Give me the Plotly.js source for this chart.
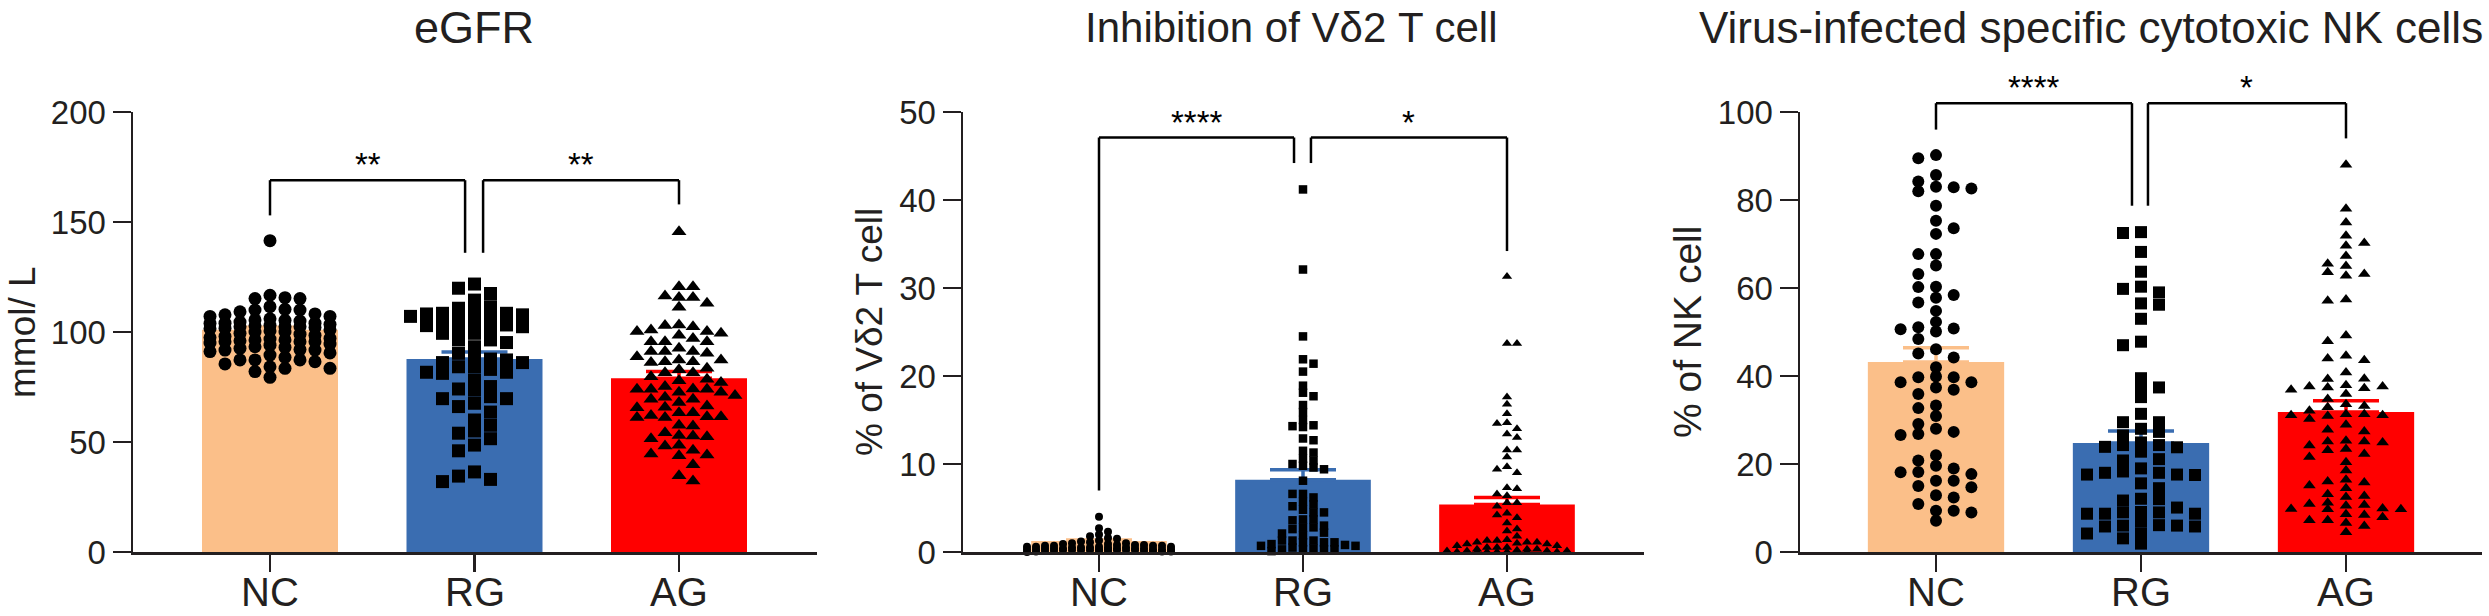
<!DOCTYPE html>
<html>
<head>
<meta charset="utf-8">
<script src="https://cdn.plot.ly/plotly-3.0.1.min.js"></script>
<style>html,body{margin:0;padding:0;background:#fff;}#chart{width:2489px;height:616px;}</style>
</head>
<body>
<div id="chart"></div>
<script>
// ---------------- DATA ----------------
const categories = ['NC', 'RG', 'AG'];

// eGFR (mmol/ L)
const egfrNC = [141.5, 116.7, 115.6, 115.2, 115.2, 111.5, 110.3, 110, 110, 109.2, 108.2, 107.8, 107.1, 107.1, 106, 105.5, 105.3, 105, 104.5, 104, 104, 103.9, 103.5, 103, 102.8, 102.4, 102.4, 102.4, 102, 101.7, 101.5, 101, 100.5, 100, 100, 99.4, 99, 98.5, 98, 97.5, 97.1, 96.8, 96.4, 96.4, 96, 95.6, 95.6, 95.6, 95, 94.5, 94, 93.3, 93, 92.6, 92, 91.8, 91.8, 91.1, 90.5, 89.5, 88.5, 87.3, 87.3, 87.3, 86.5, 85.5, 84.2, 83.5, 83.5, 82, 79.4];
const egfrRG = [121.8, 119.9, 117.5, 114.5, 111.5, 110.8, 109.2, 108.5, 108.5, 108.2, 107.8, 107.1, 106.3, 105.5, 104, 104, 103.2, 102.9, 102.4, 101, 101, 99.4, 99.4, 96.4, 96.4, 95.2, 93.3, 90.3, 88.8, 87.7, 87.3, 86.1, 86.1, 84.2, 84.2, 83, 81.7, 81.7, 81.2, 78.2, 75.2, 74.1, 73.6, 70.6, 69.7, 69.7, 67.6, 66.1, 63.6, 60, 57.6, 55, 54, 51.5, 48.6, 46, 36.4, 34.5, 33, 32];
const egfrAG = [145.6, 120.6, 120.6, 116.4, 115.7, 115.7, 113.1, 111.2, 103.2, 103, 102.4, 100.9, 100.2, 100.2, 99.4, 98.5, 97.1, 95.6, 95.6, 95.6, 92.6, 91.1, 91.1, 91.1, 90.3, 88.8, 87.3, 87.3, 86.5, 86.5, 86.1, 83.5, 82.8, 81.5, 81.5, 79.7, 78.5, 77.8, 77.1, 75.2, 74.1, 74, 74, 74, 72.6, 72.6, 71.1, 70.3, 69.4, 69.4, 68, 66.4, 65.8, 65.6, 63.3, 63.3, 62, 61.5, 61.5, 61.1, 61.1, 57.6, 57.3, 54.2, 53, 52.7, 52.4, 51.5, 48.5, 48.2, 46.2, 44.5, 44.1, 43.7, 39.7, 34.7, 32.3];
const egfrMean = [101, 87.7, 79];
const egfrSEM = [1.2, 3.2, 3.0];
const egfrTicks = [0, 50, 100, 150, 200];

// Inhibition of Vδ2 T cell (% of Vδ2 T cell)
const vd2NC = [4.0, 2.7, 2.3, 2.0, 1.8, 1.6, 1.5, 1.3, 1.2, 1.1, 1.0, 1.0, 0.9, 0.9, 0.8, 0.8, 0.8, 0.7, 0.7, 0.7, 0.7, 0.6, 0.6, 0.6, 0.6, 0.5, 0.5, 0.5, 0.5, 0.5, 0.4, 0.4, 0.4, 0.4, 0.4, 0.4, 0.3, 0.3, 0.3, 0.3, 0.3, 0.3, 0.3, 0.2, 0.2, 0.2, 0.2, 0.2, 0.2, 0.2, 0.1, 0.1, 0.1, 0.1, 0.1, 0.1, 0.05, 0.05, 0.05, 0.0];
const vd2RG = [41.2, 32.1, 24.5, 21.9, 21.4, 20.5, 18.9, 18.1, 17.7, 16.7, 15.9, 15, 14.4, 14.3, 14.2, 12.9, 12.7, 11.5, 11.3, 10.6, 10.4, 10, 9.8, 9.6, 9.4, 8.1, 6.6, 6.6, 6.2, 5.7, 5.4, 5.2, 4.8, 4.5, 4.5, 3.7, 3.7, 3.6, 3.0, 2.8, 2.8, 2.6, 2.2, 2.1, 1.9, 1.3, 1.3, 1.3, 1.1, 1.1, 1.1, 0.9, 0.8, 0.7, 0.7, 0.5, 0.4, 0.3, 0.3, 0.3, 0.3, 0.1];
const vd2AG = [31.3, 23.7, 23.7, 17.6, 16.8, 15.7, 14.7, 14.6, 14.0, 13.4, 13.0, 11.6, 11.6, 10.8, 9.7, 9.4, 9.0, 7.3, 7.2, 6.6, 6.4, 5.6, 5.6, 5.2, 4.4, 4.2, 3.9, 3.3, 2.6, 2.4, 1.8, 1.4, 1.3, 1.3, 1.1, 1.1, 1.1, 1.0, 0.9, 0.9, 0.7, 0.7, 0.5, 0.5, 0.5, 0.3, 0.3, 0.3, 0.2, 0.1, 0.1, 0.1, 0.1, 0.0, 0.0, 0.0, 0.0, 0.0, 0.0, 0.0];
const vd2Mean = [1.25, 8.2, 5.4];
const vd2SEM = [0.12, 1.15, 0.8];
const vd2Ticks = [0, 10, 20, 30, 40, 50];

// Virus-infected specific cytotoxic NK cells (% of NK cell)
const nkNC = [90.2, 89.5, 85.7, 84.2, 83, 82.9, 82.6, 82, 78.7, 75.3, 73.6, 72.3, 67.7, 67.7, 65.1, 63.2, 60.3, 60.2, 58.4, 57.8, 56.7, 54.8, 52.3, 51.1, 50.8, 50.6, 50.1, 48.4, 46.1, 45.1, 44.2, 42, 39.9, 39.7, 39.7, 38.6, 38.6, 37.4, 36.9, 35.9, 33.3, 32.7, 30.9, 29.1, 28, 27.3, 26.8, 26.6, 22, 20.8, 19.6, 19, 18.2, 18.1, 17.7, 16.2, 16.2, 15, 14.7, 12.9, 12.4, 10.9, 9.4, 9.4, 9, 7.1];
const nkRG = [72.7, 72.5, 68.2, 63.7, 60.3, 59.8, 59, 56.5, 56.2, 53, 47.8, 47, 39.5, 37.4, 37.4, 35.2, 31.4, 29.5, 29.5, 28, 27.3, 26.5, 24.9, 24.3, 24.3, 23.9, 23.8, 22.8, 21.1, 20.8, 19, 18.3, 18, 18, 17.6, 17.6, 17.5, 15.6, 14.5, 12.1, 12, 11.7, 10.1, 9.1, 9, 9, 8.7, 8.7, 8.7, 6.9, 6.1, 6, 6, 5.8, 5.8, 4.2, 4.2, 3.1, 1.9];
const nkAG = [88, 78, 74.9, 71.9, 70.2, 69.6, 67.3, 65.5, 65, 63.6, 63.2, 62.8, 57.4, 57.1, 49.2, 47.9, 44.6, 44, 43.6, 40.8, 39.4, 39.3, 37.9, 37.6, 37.6, 37.4, 37.2, 36.9, 35.9, 34.8, 33.6, 33.2, 32.9, 32.1, 31.3, 31.3, 31.1, 31.1, 30.9, 30.2, 28.9, 27.8, 27.4, 25.3, 25.1, 25.1, 24.9, 24.2, 23.4, 23.1, 22.3, 21.6, 20.4, 18.5, 16.4, 16, 15.8, 15.1, 14.5, 13.1, 12.7, 12.5, 11.2, 10.9, 10.7, 10.5, 9.9, 9.8, 9.7, 9.7, 8.6, 8.4, 7.9, 7.2, 7.2, 6.6, 5.9, 4.5];
const nkMean = [43.2, 24.8, 31.8];
const nkSEM = [3.2, 2.7, 2.6];
const nkTicks = [0, 20, 40, 60, 80, 100];

// significance labels
const egfrSig = ['**', '**'];
const vd2Sig = ['****', '*'];
const nkSig = ['****', '*'];

// ---------------- LAYOUT / STYLE ----------------
const W = 2489, H = 616;
const TXT = '#231f20';
const FONT = 'Liberation Sans, Arial, Helvetica, sans-serif';
const barColors = ['#fbbf89', '#3a6db1', '#ff0000'];
const symbols = ['circle', 'square', 'triangle-up'];
const yTopPx = 112, yBotPx = 552;

const panels = [
  { title: 'eGFR', titleSize: 45, ytitle: 'mmol/ L', ytitleSize: 37, groups: [egfrNC, egfrRG, egfrAG], mean: egfrMean, sem: egfrSEM,
    ticks: egfrTicks, sig: egfrSig, px: [133, 817], cats: [270, 679], titleX: 474, titleAnchor: 'center', ytitleX: 22,
    msize: [13, 13, 13], step: [15, 16, 14], maxCol: [4, 4, 5],
    br: [{x0: 0, x1: 0.954, top: 169, e0: 153, e1: 136}, {x0: 1.042, x1: 2, top: 169, e0: 136, e1: 158}] },
  { title: 'Inhibition of Vδ2 T cell', titleSize: 42, ytitle: '% of Vδ2 T cell', ytitleSize: 37, groups: [vd2NC, vd2RG, vd2AG], mean: vd2Mean, sem: vd2SEM,
    ticks: vd2Ticks, sig: vd2Sig, px: [963, 1644], cats: [1099, 1507], titleX: 1291, titleAnchor: 'center', ytitleX: 869,
    msize: [8, 8.5, 9], step: [9, 10.5, 10], maxCol: [8, 6, 6],
    br: [{x0: 0, x1: 0.956, top: 47.1, e0: 7.0, e1: 44.2}, {x0: 1.039, x1: 2, top: 47.1, e0: 44.2, e1: 34.2}] },
  { title: 'Virus-infected specific cytotoxic NK cells', titleSize: 44, ytitle: '% of NK cell', ytitleSize: 39, groups: [nkNC, nkRG, nkAG], mean: nkMean, sem: nkSEM,
    ticks: nkTicks, sig: nkSig, px: [1800, 2482], cats: [1936, 2346], titleX: 2485, titleAnchor: 'right', ytitleX: 1687,
    msize: [12, 12, 11], step: [17.7, 18, 18.3], maxCol: [2, 3, 3],
    br: [{x0: 0, x1: 0.956, top: 102, e0: 96, e1: 78.7}, {x0: 1.034, x1: 2, top: 102, e0: 78.7, e1: 94}] }
];

// deterministic beeswarm: returns pixel offsets from the column centre
function swarm(vals, pxY, step, size, maxCol, thr) {
  const n = vals.length;
  const idx = [...Array(n).keys()].sort((a, b) => vals[b] - vals[a]);
  const cols = {};
  const off = new Array(n);
  let flip = false;
  for (const i of idx) {
    const y = vals[i] * pxY;
    const cand = [0];
    for (let k = 1; k <= maxCol; k++) cand.push(flip ? -k : k, flip ? k : -k);
    flip = !flip;
    let chosen = null, bestGap = -1, bestC = 0;
    for (const c of cand) {
      const list = cols[c] || [];
      let gap = Infinity;
      for (const py of list) gap = Math.min(gap, Math.abs(py - y));
      if (gap >= thr * size) { chosen = c; break; }
      if (gap > bestGap) { bestGap = gap; bestC = c; }
    }
    if (chosen === null) chosen = bestC;
    (cols[chosen] = cols[chosen] || []).push(y);
    off[i] = chosen * step;
  }
  return off;
}

const traces = [];
const shapes = [];
const annotations = [];
const layout = {
  width: W, height: H, margin: {l: 0, r: 0, t: 0, b: 0},
  paper_bgcolor: '#ffffff', plot_bgcolor: 'rgba(0,0,0,0)',
  showlegend: false, barmode: 'overlay',
  font: {family: FONT, color: TXT}
};

const scatterTraces = [];
panels.forEach((p, pi) => {
  const sfx = pi === 0 ? '' : String(pi + 1);
  const xa = 'x' + sfx, ya = 'y' + sfx;
  const sp = (p.cats[1] - p.cats[0]) / 2;         // px per category unit
  const r0 = (p.px[0] - p.cats[0]) / sp;
  const r1 = 2 + (p.px[1] - p.cats[1]) / sp;
  const ymax = p.ticks[p.ticks.length - 1];
  const pxY = (yBotPx - yTopPx) / ymax;
  const fx = v => (v - r0) / (r1 - r0);
  const fy = v => v / ymax;
  const xr = xa + ' domain', yr = ya + ' domain';

  layout['xaxis' + sfx] = {
    domain: [p.px[0] / W, p.px[1] / W], range: [r0, r1], anchor: ya,
    tickmode: 'array', tickvals: [0, 1, 2], ticktext: categories, showticklabels: false,
    showline: true, linewidth: 2.5, linecolor: TXT, ticks: 'outside', ticklen: 17, tickwidth: 2.5, tickcolor: TXT,
    showgrid: false, zeroline: false, fixedrange: true
  };
  layout['yaxis' + sfx] = {
    domain: [1 - yBotPx / H, 1 - yTopPx / H], range: [0, ymax], anchor: xa,
    tickmode: 'array', tickvals: p.ticks, ticktext: p.ticks.map(String),
    showline: true, linewidth: 2.5, linecolor: TXT, ticks: 'outside', ticklen: 18, tickwidth: 2.5, tickcolor: TXT,
    tickfont: {size: 33, family: FONT, color: TXT}, showgrid: false, zeroline: false, fixedrange: true
  };

  // category labels under the ticks
  categories.forEach((c, g) => {
    annotations.push({xref: xr, yref: 'paper', x: fx(g), y: 1 - 592 / H, xanchor: 'center', yanchor: 'middle',
      text: c, showarrow: false, font: {size: 40, family: FONT, color: TXT}});
  });

  // bars with one-sided SEM
  for (let g = 0; g < 3; g++) {
    traces.push({
      type: 'bar', x: [g], y: [p.mean[g]], width: 0.665, xaxis: xa, yaxis: ya,
      marker: {color: barColors[g], line: {width: 0}},
      error_y: {type: 'data', symmetric: false, array: [p.sem[g]], arrayminus: [0], color: barColors[g], thickness: 3.5, width: 33},
      hoverinfo: 'skip'
    });
  }
  // individual points
  for (let g = 0; g < 3; g++) {
    const vals = p.groups[g];
    const off = swarm(vals, pxY, p.step[g], p.msize[g], p.maxCol[g], 0.75);
    scatterTraces.push({
      type: 'scatter', mode: 'markers', xaxis: xa, yaxis: ya, cliponaxis: false,
      x: vals.map((v, i) => g + off[i] / sp), y: vals,
      marker: {symbol: symbols[g], size: p.msize[g], color: '#000000', line: {width: 0}},
      hoverinfo: 'skip'
    });
  }
  // significance brackets
  p.br.forEach((b, bi) => {
    const ln = {color: '#000000', width: 2.5};
    shapes.push({type: 'line', xref: xr, yref: yr, x0: fx(b.x0), x1: fx(b.x0), y0: fy(b.e0), y1: fy(b.top), line: ln});
    shapes.push({type: 'line', xref: xr, yref: yr, x0: fx(b.x0), x1: fx(b.x1), y0: fy(b.top), y1: fy(b.top), line: ln});
    shapes.push({type: 'line', xref: xr, yref: yr, x0: fx(b.x1), x1: fx(b.x1), y0: fy(b.e1), y1: fy(b.top), line: ln});
    annotations.push({xref: xr, yref: yr, x: fx((b.x0 + b.x1) / 2), y: fy(b.top), xanchor: 'center', yanchor: 'bottom',
      yshift: -5, text: p.sig[bi], showarrow: false, font: {size: 33, family: FONT, color: '#000000'}});
  });
  // panel titles
  annotations.push({xref: 'paper', yref: 'paper', x: p.titleX / W, y: 1 - 28 / H, xanchor: p.titleAnchor, yanchor: 'middle',
    text: p.title, showarrow: false, font: {size: p.titleSize, family: FONT, color: TXT}});
  annotations.push({xref: 'paper', yref: 'paper', x: p.ytitleX / W, y: 1 - 332 / H, xanchor: 'center', yanchor: 'middle',
    text: p.ytitle, textangle: -90, showarrow: false, font: {size: p.ytitleSize, family: FONT, color: TXT}});
});

layout.shapes = shapes;
layout.annotations = annotations;
Plotly.newPlot('chart', traces.concat(scatterTraces), layout, {displayModeBar: false, staticPlot: true});
</script>
</body>
</html>
